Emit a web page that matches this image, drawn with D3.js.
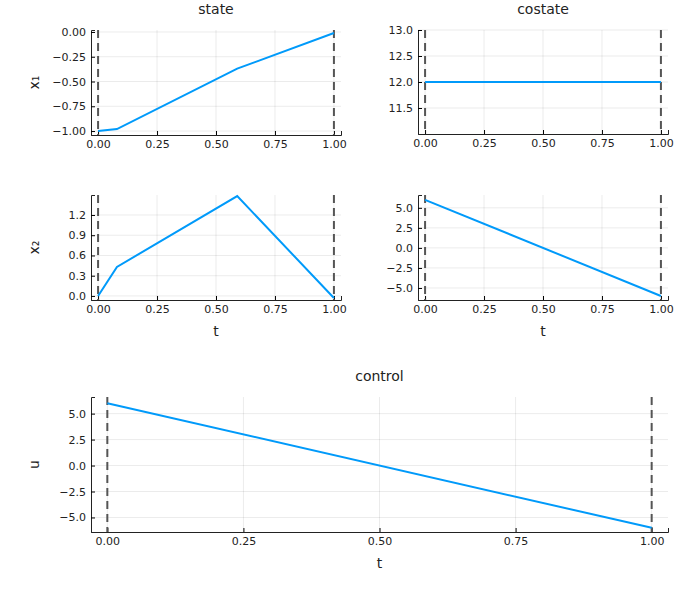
<!DOCTYPE html><html><head><script src="https://cdn.jsdelivr.net/npm/d3@7"></script>
<style>body{margin:0;background:#fff}text{font-family:"DejaVu Sans",sans-serif;fill:#222}</style></head><body>
<script>
const tX1=[0,0.08,0.59,1], x1=[-1,-0.98,-0.37,-0.01];
const tX2=[0,0.08,0.59,1], x2=[0,0.43,1.48,-0.03];
const tP=[0,1], p1=[12,12];
const tP2=[0,1], p2=[6,-6];
const tU=[0,1], u=[6,-6];
const xTicks=[0,0.25,0.5,0.75,1];
const svg=d3.select("body").append("svg").attr("width",680).attr("height",600);
function panel(o){
  const x=d3.scaleLinear().domain([-0.03,1.03]).range([o.l,o.r]);
  const y=d3.scaleLinear().domain(o.yd).range([o.b,o.t]);
  const g=svg.append("g");
  o.xt.forEach(v=>g.append("line").attr("x1",x(v)).attr("x2",x(v)).attr("y1",o.t).attr("y2",o.b).attr("stroke","#000").attr("stroke-opacity",0.08));
  o.yt.forEach(v=>g.append("line").attr("x1",o.l).attr("x2",o.r).attr("y1",y(v)).attr("y2",y(v)).attr("stroke","#000").attr("stroke-opacity",0.08));
  g.append("g").attr("transform",`translate(0,${o.b})`).call(d3.axisBottom(x).tickValues(o.xt).tickFormat(d3.format(".2f")).tickSize(-4).tickPadding(5)).call(a=>{a.select(".domain").attr("stroke","#222");a.selectAll("text").style("font-size","11px");});
  g.append("g").attr("transform",`translate(${o.l},0)`).call(d3.axisLeft(y).tickValues(o.yt).tickFormat(d3.format(o.yf)).tickSize(-4).tickPadding(5)).call(a=>{a.select(".domain").attr("stroke","#222");a.selectAll("text").style("font-size","11px").text(function(){return this.textContent.replace("-","−")});});
  [0,1].forEach(v=>g.append("line").attr("x1",x(v)).attr("x2",x(v)).attr("y1",o.t).attr("y2",o.b).attr("stroke","#555").attr("stroke-width",2).attr("stroke-dasharray","8,5"));
  g.append("path").datum(o.tt.map((t,i)=>[t,o.vv[i]])).attr("d",d3.line().x(d=>x(d[0])).y(d=>y(d[1]))).attr("fill","none").attr("stroke","#009AFA").attr("stroke-width",2);
  if(o.title) g.append("text").attr("x",(o.l+o.r)/2).attr("y",o.t-16).attr("text-anchor","middle").style("font-size","14px").text(o.title);
  if(o.xl) g.append("text").attr("x",(o.l+o.r)/2).attr("y",o.b+36).attr("text-anchor","middle").style("font-size","14px").text(o.xl);
  if(o.yl) g.append("text").attr("transform",`translate(${o.l-52},${(o.t+o.b)/2}) rotate(-90)`).attr("text-anchor","middle").style("font-size","14px").text(o.yl);
}
panel({l:91,r:341,t:30,b:135,yd:[-1.04,0.02],yt:[-1,-0.75,-0.5,-0.25,0],yf:".2f",xt:xTicks,tt:tX1,vv:x1,title:"state",yl:"x₁"});
panel({l:418,r:668,t:30,b:134,yd:[11,13],yt:[11.5,12,12.5,13],yf:".1f",xt:xTicks,tt:tP,vv:p1,title:"costate"});
panel({l:91,r:341,t:195,b:300,yd:[-0.06,1.496],yt:[0,0.3,0.6,0.9,1.2],yf:".1f",xt:xTicks,tt:tX2,vv:x2,xl:"t",yl:"x₂"});
panel({l:418,r:668,t:195,b:300,yd:[-6.5,6.6],yt:[-5,-2.5,0,2.5,5],yf:".1f",xt:xTicks,tt:tP2,vv:p2,xl:"t"});
panel({l:91,r:668,t:397,b:532,yd:[-6.4,6.6],yt:[-5,-2.5,0,2.5,5],yf:".1f",xt:xTicks,tt:tU,vv:u,title:"control",xl:"t",yl:"u"});
</script></body></html>
